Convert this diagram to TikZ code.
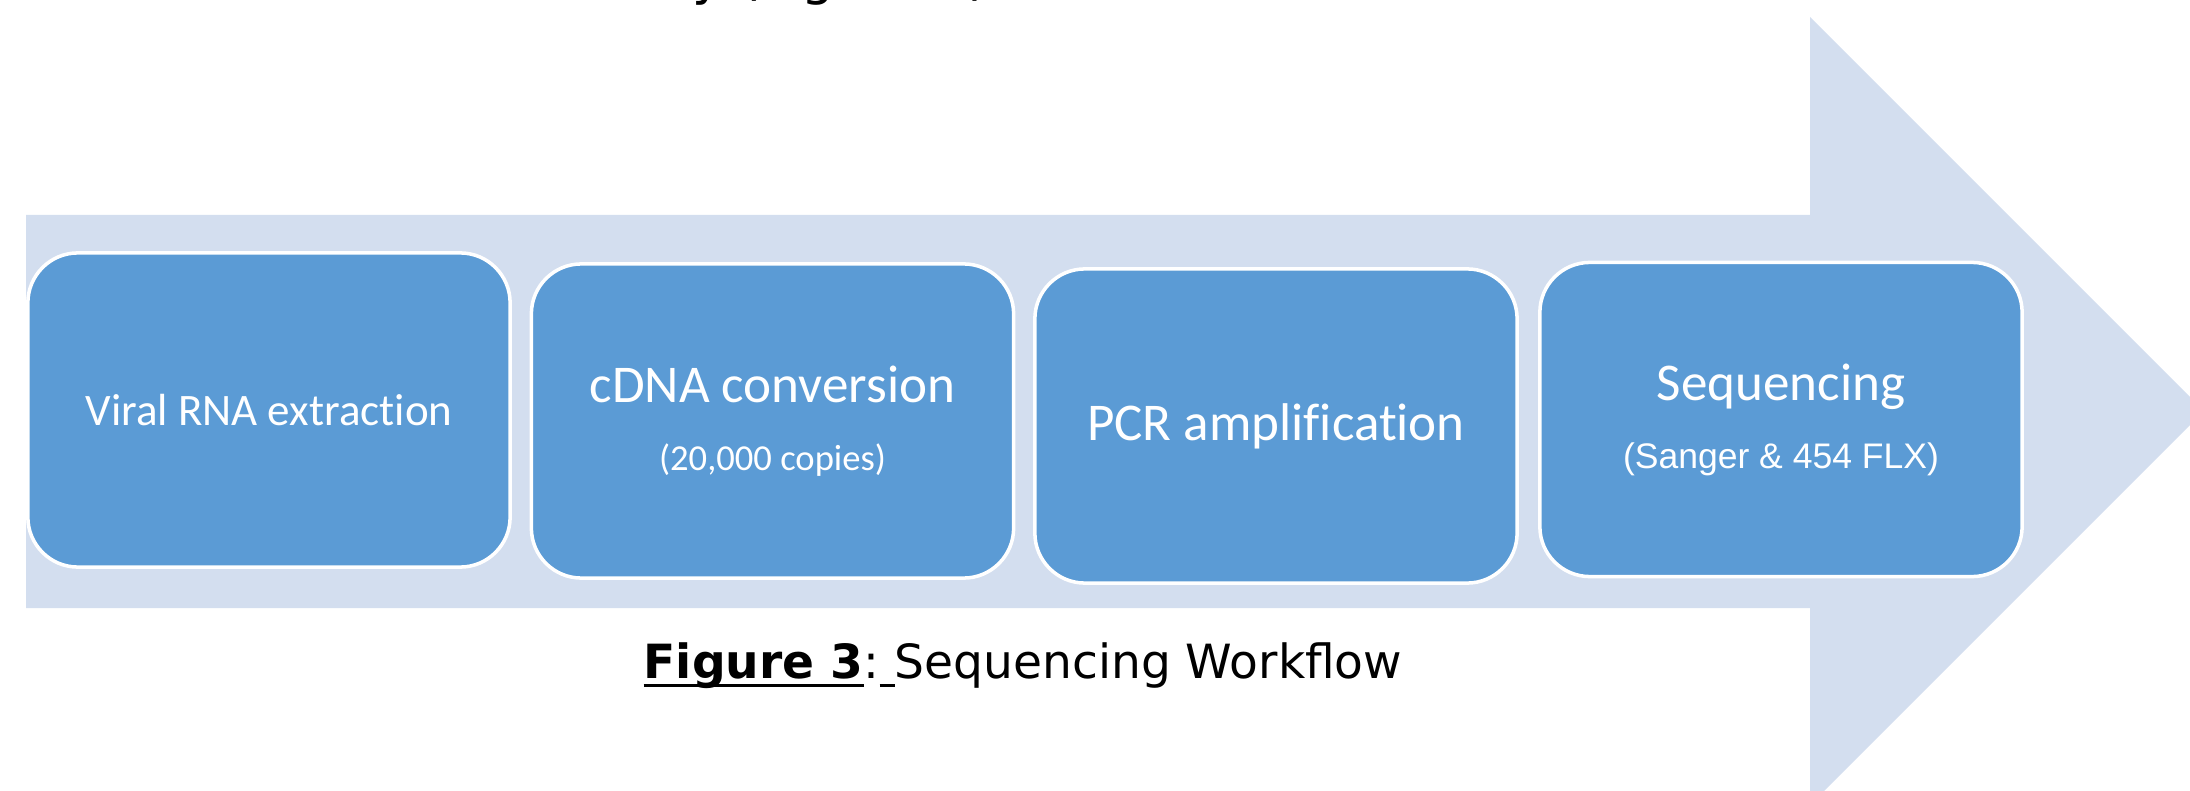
\documentclass[tikz,border=0pt]{standalone}
\usepackage{fontspec}
\setmainfont{Carlito}[Ligatures=CommonOff]
\newfontfamily\arialfont{Liberation Sans}
\newfontfamily\verdanafont{DejaVu Sans}
\definecolor{cpale}{HTML}{D3DEEF}
\definecolor{cstep}{HTML}{5B9BD5}
\newsavebox{\ulbox}
\newcommand{\uln}[1]{\sbox{\ulbox}{#1}\rlap{\rule[-2.6pt]{\wd\ulbox}{1pt}}\usebox{\ulbox}}
\newcommand{\subcal}[1]{{\fontsize{10.4}{19.35}\selectfont #1}}
\newcommand{\subarial}[1]{{\arialfont\fontsize{10.1}{19.35}\selectfont #1}}
\tikzset{
  stepbox/.style={draw=white, fill=cstep, line width=1pt, rounded corners=0.5cm, minimum width=4.82cm, minimum height=3.14cm, inner sep=0pt, text=white, align=center},
  bigtext/.style={font=\fontsize{15.1}{19.35}\selectfont},
  midtext/.style={font=\fontsize{12.8}{19.35}\selectfont},
  captext/.style={font=\verdanafont\fontsize{13.4}{16}\selectfont, inner sep=0pt, anchor=base west},
}
\begin{document}
\begin{tikzpicture}[x=0.01cm, y=-0.01cm]
  \useasboundingbox (0,0) rectangle (2190,791);
  % background arrow
  \fill[cpale] (26,215) -- (1810,215) -- (1810,17) -- (2204,411) -- (1810,805) -- (1810,608) -- (26,608) -- cycle;
  % the four steps
  \node[stepbox, midtext] (rna) at (269,410) {Viral RNA extraction};
  \node[stepbox, bigtext] (cdna) at (772.5,421) {cDNA conversion\\\subcal{(20,000 copies)}};
  \node[stepbox, bigtext] (pcr) at (1276,426) {PCR amplification};
  \node[stepbox, bigtext] (seq) at (1781,419.5) {Sequencing\\\subarial{(Sanger \& 454 FLX)}};
  % caption
  \node[captext] (cap) at (643,678) {\uln{\textbf{Figure 3}}:\uln{\ }Sequencing Workflow};
  \node[captext, font=\verdanafont\fontsize{14.8}{16}\selectfont] (frag) at (692,-5) {y (Figure 3)};
\end{tikzpicture}
\end{document}
